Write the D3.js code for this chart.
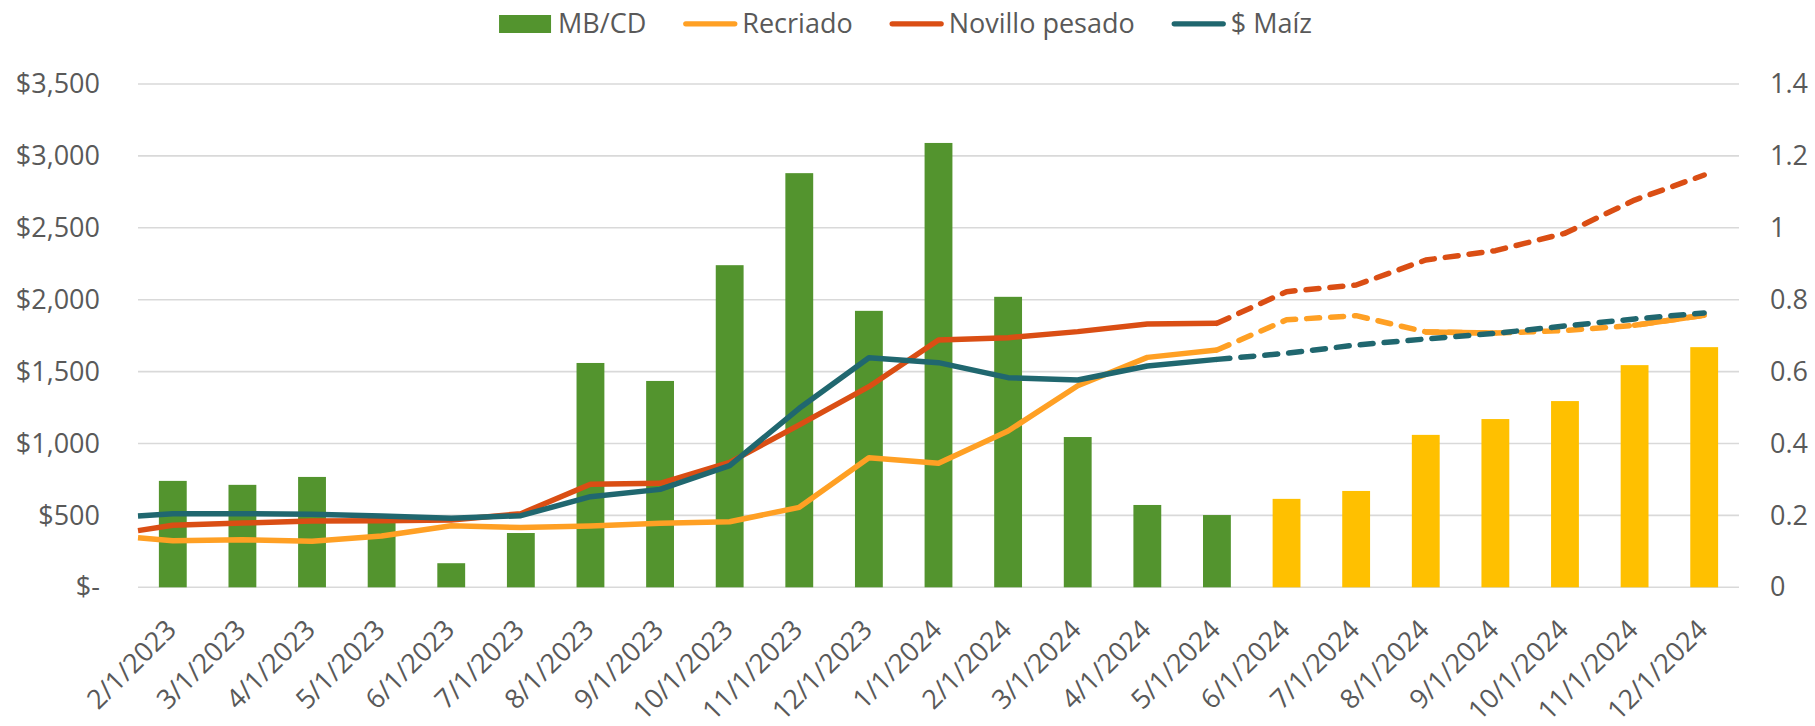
<!DOCTYPE html>
<html>
<head>
<meta charset="utf-8">
<script src="https://cdn.jsdelivr.net/npm/d3@7"></script>
<style>
  body { margin: 0; background: #fff; }
  text { font-family: "Open Sans", sans-serif; fill: #595959; }
</style>
</head>
<body>
<svg id="chart"></svg>
<script>
// fechas del eje horizontal
const fechas = ['2/1/2023', '3/1/2023', '4/1/2023', '5/1/2023', '6/1/2023', '7/1/2023',
  '8/1/2023', '9/1/2023', '10/1/2023', '11/1/2023', '12/1/2023', '1/1/2024',
  '2/1/2024', '3/1/2024', '4/1/2024', '5/1/2024', '6/1/2024', '7/1/2024',
  '8/1/2024', '9/1/2024', '10/1/2024', '11/1/2024', '12/1/2024']

// MB/CD (eje derecho)
const mbcd = [0.296, 0.285, 0.307, 0.193, 0.067, 0.151, 0.624, 0.574, 0.896, 1.152, 0.769, 1.236,
  0.808, 0.418, 0.229, 0.201, 0.246, 0.268, 0.424, 0.468, 0.518, 0.618, 0.668]
const primerMesProyectado = '6/1/2024'

// precios reales (eje izquierdo), 2/1/2023 a 5/1/2024
const recriado = [324, 331, 320, 357, 428, 415, 426, 445, 456, 556, 901, 862, 1087, 1402, 1599, 1650]
const novillo = [431, 447, 461, 463, 468, 512, 716, 723, 869, 1129, 1395, 1720, 1736, 1778, 1831, 1836]
const maiz = [511, 512, 508, 496, 480, 498, 630, 681, 846, 1245, 1597, 1562, 1458, 1442, 1539, 1585]
// valor en el borde izquierdo del grafico: recriado, novillo, maiz
const inicioLineas = [345, 394, 496]

// proyecciones, 5/1/2024 a 12/1/2024
const recriadoProy = [1650, 1860, 1889, 1776, 1768, 1785, 1822, 1892]
const novilloProy = [1836, 2056, 2102, 2276, 2341, 2462, 2693, 2867]
const maizProy = [1585, 1627, 1685, 1727, 1766, 1817, 1866, 1908]
const tramosSolidosRecriado = [['8/1/2024', '9/1/2024'], ['11/1/2024', '12/1/2024']]

const ticksIzq = [0, 500, 1000, 1500, 2000, 2500, 3000, 3500]
const ticksDer = [0, 0.2, 0.4, 0.6, 0.8, 1, 1.2, 1.4]

const width = 1815
const height = 726
const margin = { top: 84, bottom: 138.7, left: 138, right: 76 }

const colores = {
  barra: '#53942e', barraProy: '#ffc000',
  recriado: '#ffa024', novillo: '#da4e14', maiz: '#20676f', grid: '#d9d9d9'
}

const svg = d3.select('#chart')
  .attr('width', width)
  .attr('height', height)

const x = d3.scaleBand()
  .domain(fechas)
  .range([margin.left, width - margin.right])
  .paddingInner(0.6)
  .paddingOuter(0.3)
const cx = d => x(d) + x.bandwidth() / 2

const yL = d3.scaleLinear().domain([0, 3500]).range([height - margin.bottom, margin.top])
const yR = d3.scaleLinear().domain([0, 1.4]).range([height - margin.bottom, margin.top])

// lineas de grilla
svg.append('g')
  .selectAll('line')
  .data(ticksIzq)
  .join('line')
  .attr('x1', margin.left)
  .attr('x2', width - margin.right)
  .attr('y1', d => yL(d))
  .attr('y2', d => yL(d))
  .attr('stroke', colores.grid)
  .attr('stroke-width', 1.6)

// ejes
const fmtPeso = d => d === 0 ? '$-' : d3.format('$,')(d)
svg.append('g')
  .attr('transform', `translate(${margin.left},0)`)
  .call(d3.axisLeft(yL).tickValues(ticksIzq).tickFormat(fmtPeso).tickSize(0).tickPadding(38))
  .call(g => g.select('.domain').remove())

svg.append('g')
  .attr('transform', `translate(${width - margin.right},0)`)
  .call(d3.axisRight(yR).tickValues(ticksDer).tickFormat(d3.format('')).tickSize(0).tickPadding(31))
  .call(g => g.select('.domain').remove())

svg.append('g')
  .attr('transform', `translate(0,${height - margin.bottom})`)
  .call(d3.axisBottom(x).tickSize(0))
  .call(g => g.select('.domain').remove())
  .call(g => g.selectAll('text')
    .attr('x', 0).attr('y', 0).attr('dy', 0)
    .attr('text-anchor', 'end')
    .attr('transform', 'translate(5,44) rotate(-45)'))

svg.selectAll('.tick text')
  .style('font-family', '"Open Sans", sans-serif')
  .style('font-size', '27px')
  .attr('fill', '#595959')

// barras
const idxProy = fechas.indexOf(primerMesProyectado)
svg.append('g')
  .selectAll('rect')
  .data(fechas)
  .join('rect')
  .attr('x', d => x(d))
  .attr('width', x.bandwidth())
  .attr('y', (d, i) => yR(mbcd[i]))
  .attr('height', (d, i) => yR(0) - yR(mbcd[i]))
  .attr('fill', (d, i) => i >= idxProy ? colores.barraProy : colores.barra)

// lineas
const line = d3.line()
  .x(d => d.x)
  .y(d => yL(d.v))

const series = [
  { key: 'recriado', real: recriado, proy: recriadoProy, inicio: inicioLineas[0] },
  { key: 'novillo', real: novillo, proy: novilloProy, inicio: inicioLineas[1] },
  { key: 'maiz', real: maiz, proy: maizProy, inicio: inicioLineas[2] }
]
const idxProyInicio = fechas.length - recriadoProy.length

const lineas = svg.append('g')
  .attr('fill', 'none')
  .attr('stroke-width', 5.5)
  .attr('stroke-linejoin', 'round')

series.forEach(s => {
  const ptsReal = [{ x: x.range()[0], v: s.inicio }]
    .concat(s.real.map((v, i) => ({ x: cx(fechas[i]), v: v })))
  const ptsProy = s.proy.map((v, i) => ({ x: cx(fechas[idxProyInicio + i]), v: v, f: fechas[idxProyInicio + i] }))

  lineas.append('path')
    .datum(ptsReal)
    .attr('stroke', colores[s.key])
    .attr('d', line)

  lineas.append('path')
    .datum(ptsProy)
    .attr('stroke', colores[s.key])
    .attr('stroke-dasharray', '13 11')
    .attr('stroke-linecap', 'round')
    .attr('d', line)

  if (s.key === 'recriado') {
    tramosSolidosRecriado.forEach(([a, b]) => {
      const tramo = ptsProy.filter(p => fechas.indexOf(p.f) >= fechas.indexOf(a) && fechas.indexOf(p.f) <= fechas.indexOf(b))
      lineas.append('path')
        .datum(tramo)
        .attr('stroke', colores.recriado)
        .attr('stroke-linecap', 'round')
        .attr('d', line)
    })
  }
})

// leyenda
const itemsLeyenda = [
  { nombre: 'MB/CD', tipo: 'rect', color: colores.barra },
  { nombre: 'Recriado', tipo: 'line', color: colores.recriado },
  { nombre: 'Novillo pesado', tipo: 'line', color: colores.novillo },
  { nombre: '$ Maíz', tipo: 'line', color: colores.maiz }
]
const leyenda = svg.append('g')
let posX = 0
itemsLeyenda.forEach((it, i) => {
  const g = leyenda.append('g').attr('transform', `translate(${posX},0)`)
  if (it.tipo === 'rect') {
    g.append('rect').attr('x', 0).attr('y', 15).attr('width', 52).attr('height', 18).attr('fill', it.color)
  } else {
    g.append('line').attr('x1', 2.5).attr('x2', 51.5).attr('y1', 23.8).attr('y2', 23.8)
      .attr('stroke', it.color).attr('stroke-width', 5.3).attr('stroke-linecap', 'round')
  }
  const t = g.append('text')
    .attr('x', 59)
    .attr('y', 32.7)
    .style('font-size', '27px')
    .text(it.nombre)
  posX += 59 + t.node().getComputedTextLength() + 37
})
const anchoLeyenda = posX - 37
leyenda.attr('transform', `translate(${(width - anchoLeyenda) / 2 - 2},0)`)
</script>
</body>
</html>
